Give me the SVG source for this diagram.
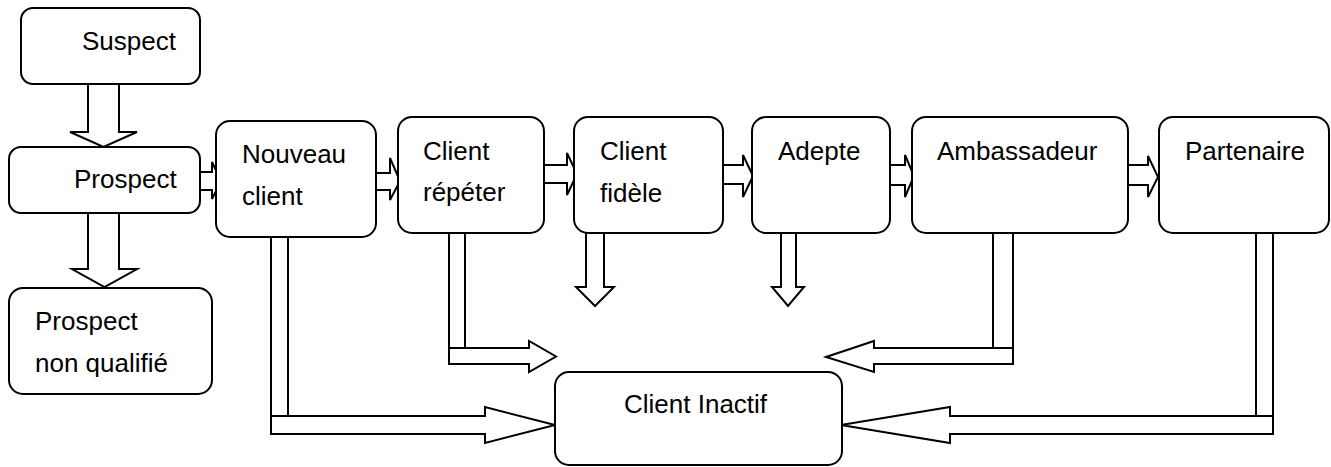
<svg xmlns="http://www.w3.org/2000/svg" width="1331" height="467" viewBox="0 0 1331 467">
<style>
.box{fill:#fff;stroke:#000;stroke-width:2}
.arr{fill:#fff;stroke:#000;stroke-width:2;stroke-linejoin:miter}
.t{font-family:"Liberation Sans",Arial,sans-serif;font-size:26px;fill:#000}
</style>
<rect width="1331" height="467" fill="#fff"/>
<g id="connectors">
<polygon class="arr" points="88,80 119,80 119,132 137,132 103.5,147 70,132 88,132"/>
<polygon class="arr" points="88,210 119,210 119,269 137,269 104.5,287 72,269 88,269"/>
<polygon class="arr" points="198,172 212,172 212,162 221,181 212,199 212,190 198,190"/>
<polygon class="arr" points="374,173 390,173 390,158 400,181 390,200 390,190 374,190"/>
<polygon class="arr" points="542,165 567,165 567,153 577,174 567,195 567,183 542,183"/>
<polygon class="arr" points="721,165 743,165 743,155 753,176 743,197 743,184 721,184"/>
<polygon class="arr" points="888,165 905,165 905,155 914,176 905,197 905,185 888,185"/>
<polygon class="arr" points="1126,165 1148,165 1148,156 1158,177 1148,197 1148,185 1126,185"/>
<polygon class="arr" points="586,230 604,230 604,287 614,287 595,306 576,287 586,287"/>
<polygon class="arr" points="781,230 796,230 796,287 804,287 788,306 772,287 781,287"/>
<rect class="arr" x="271" y="230" width="17" height="186"/>
<polygon class="arr" points="271,416 485,416 485,407 555,425 485,443 485,434 271,434"/>
<rect class="arr" x="449" y="228" width="16" height="120"/>
<polygon class="arr" points="449,348 529,348 529,341 556,356.5 529,372 529,364 449,364"/>
<rect class="arr" x="993" y="228" width="20" height="120"/>
<polygon class="arr" points="1013,348 874,348 874,341 826,357 874,372 874,364 1013,364"/>
<rect class="arr" x="1256" y="228" width="17" height="188"/>
<polygon class="arr" points="1273,416 950,416 950,407 841,425 950,443 950,434 1273,434"/>
</g>
<g id="suspect"><rect class="box" x="21" y="8" width="179" height="76" rx="12"/><text class="t" x="82" y="50">Suspect</text></g>
<g id="prospect"><rect class="box" x="9" y="147" width="191" height="66" rx="12"/><text class="t" x="74" y="188">Prospect</text></g>
<g id="prospect-nq"><rect class="box" x="9" y="288" width="203" height="106" rx="14"/><text class="t" x="35" y="330">Prospect</text><text class="t" x="35" y="372">non qualifié</text></g>
<g id="nouveau"><rect class="box" x="216" y="121" width="160" height="116" rx="14"/><text class="t" x="242" y="163">Nouveau</text><text class="t" x="242" y="205">client</text></g>
<g id="repeter"><rect class="box" x="398" y="117" width="146" height="116" rx="14"/><text class="t" x="423" y="160">Client</text><text class="t" x="423" y="201">répéter</text></g>
<g id="fidele"><rect class="box" x="574" y="117" width="149" height="116" rx="14"/><text class="t" x="600" y="160">Client</text><text class="t" x="600" y="202">fidèle</text></g>
<g id="adepte"><rect class="box" x="752" y="117" width="138" height="116" rx="14"/><text class="t" x="778" y="160">Adepte</text></g>
<g id="ambassadeur"><rect class="box" x="912" y="117" width="216" height="116" rx="14"/><text class="t" x="937" y="160">Ambassadeur</text></g>
<g id="partenaire"><rect class="box" x="1159" y="117" width="170" height="116" rx="14"/><text class="t" x="1185" y="160">Partenaire</text></g>
<g id="inactif"><rect class="box" x="555" y="372" width="287" height="93" rx="14"/><text class="t" x="624" y="413">Client Inactif</text></g>
</svg>
